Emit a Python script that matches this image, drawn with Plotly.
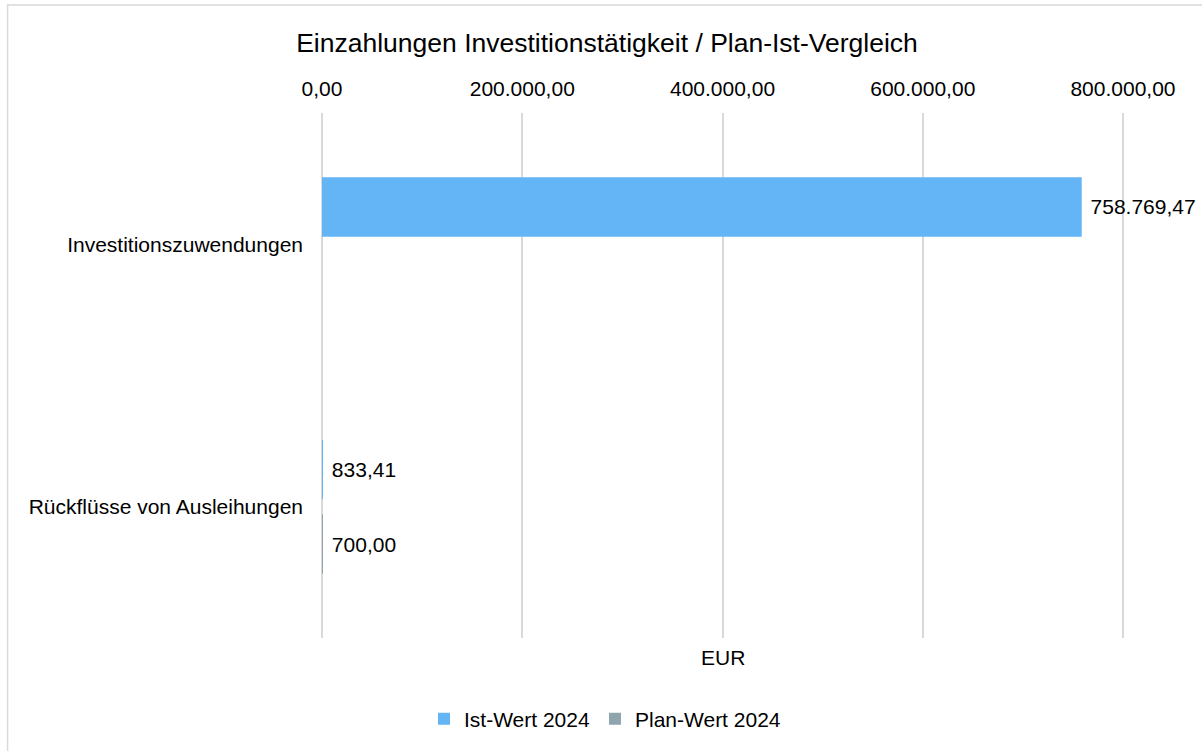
import plotly.graph_objects as go

# ---- data ----
categories = ["Investitionszuwendungen", "Rückflüsse von Ausleihungen"]
ist_2024 = [758769.47, 833.41]
plan_2024 = [None, 700.00]
series_names = ["Ist-Wert 2024", "Plan-Wert 2024"]
tick_values = [0, 200000, 400000, 600000, 800000]
title_text = "Einzahlungen Investitionstätigkeit / Plan-Ist-Vergleich"
axis_unit = "EUR"


def de(v):
    s = f"{v:,.2f}"
    return s.replace(",", "X").replace(".", ",").replace("X", ".")


W, H = 1202, 751
X_MAX = 805000
PX_PER_UNIT = 801.2 / 800000
ML, MT, MB = 321.5, 113, 113
MR = W - ML - X_MAX * PX_PER_UNIT
plot_w = W - ML - MR
plot_h = H - MT - MB

FONT = "Liberation Sans, Arial, sans-serif"
BLUE = "#64B5F6"
GREY = "#90A4AE"
TXT = dict(size=21, color="#000000", family=FONT)

fig = go.Figure()
fig.add_trace(go.Bar(
    name=series_names[0], y=categories, x=ist_2024, orientation="h",
    marker=dict(color=BLUE, line=dict(width=0)),
    text=[de(v) if v is not None else None for v in ist_2024],
    texttemplate="\u00a0%{text}", textposition="outside", cliponaxis=False,
    constraintext="none", textfont=TXT,
))
fig.add_trace(go.Bar(
    name=series_names[1], y=categories, x=plan_2024, orientation="h",
    marker=dict(color=GREY, line=dict(width=0)),
    text=[de(v) if v is not None else None for v in plan_2024],
    texttemplate="\u00a0%{text}", textposition="outside", cliponaxis=False,
    constraintext="none", textfont=TXT,
))

fig.update_layout(
    width=W, height=H,
    margin=dict(l=ML, r=MR, t=MT, b=MB, pad=0),
    paper_bgcolor="white", plot_bgcolor="white",
    font=TXT,
    barmode="group", bargap=0.432, bargroupgap=0.203,
    title=dict(text=title_text, x=607 / W, xref="container", xanchor="center",
               y=1 - 43 / H, yref="container", yanchor="middle",
               font=dict(size=26.5, color="#000000", family=FONT)),
    xaxis=dict(side="top", range=[0, X_MAX], tickvals=tick_values,
               ticktext=[de(v) for v in tick_values], showgrid=True,
               gridcolor="#D9D9D9", gridwidth=1.5, zeroline=True,
               zerolinecolor="#D9D9D9", zerolinewidth=1.5, showline=False,
               ticks="", ticklabelstandoff=12, tickfont=TXT),
    yaxis=dict(autorange="reversed", showgrid=False, zeroline=False,
               showline=False, ticks="", ticklabelstandoff=18, tickfont=TXT),
    legend=dict(orientation="h", xref="container", yref="container",
                x=605 / W, xanchor="center", y=1 - 719 / H, yanchor="middle",
                itemwidth=30, font=TXT, traceorder="normal",
                bgcolor="rgba(0,0,0,0)"),
    showlegend=True,
    annotations=[dict(text=axis_unit, xref="paper", yref="paper",
                      x=(723 - ML) / plot_w,
                      y=-(657 - (H - MB)) / plot_h,
                      xanchor="center", yanchor="middle", showarrow=False,
                      font=TXT)],
    shapes=[dict(type="rect", xref="paper", yref="paper",
                 x0=(7 - ML) / plot_w, x1=(W + 20 - ML) / plot_w,
                 y0=-(H + 20 - (H - MB)) / plot_h, y1=((H - MB) - 5) / plot_h,
                 line=dict(color="#D9D9D9", width=1.5), layer="below")],
)

fig.write_html(
    "out.html",
    config={"displayModeBar": False},
    post_script="document.body.style.margin='0';document.body.style.overflow='hidden';",
)
